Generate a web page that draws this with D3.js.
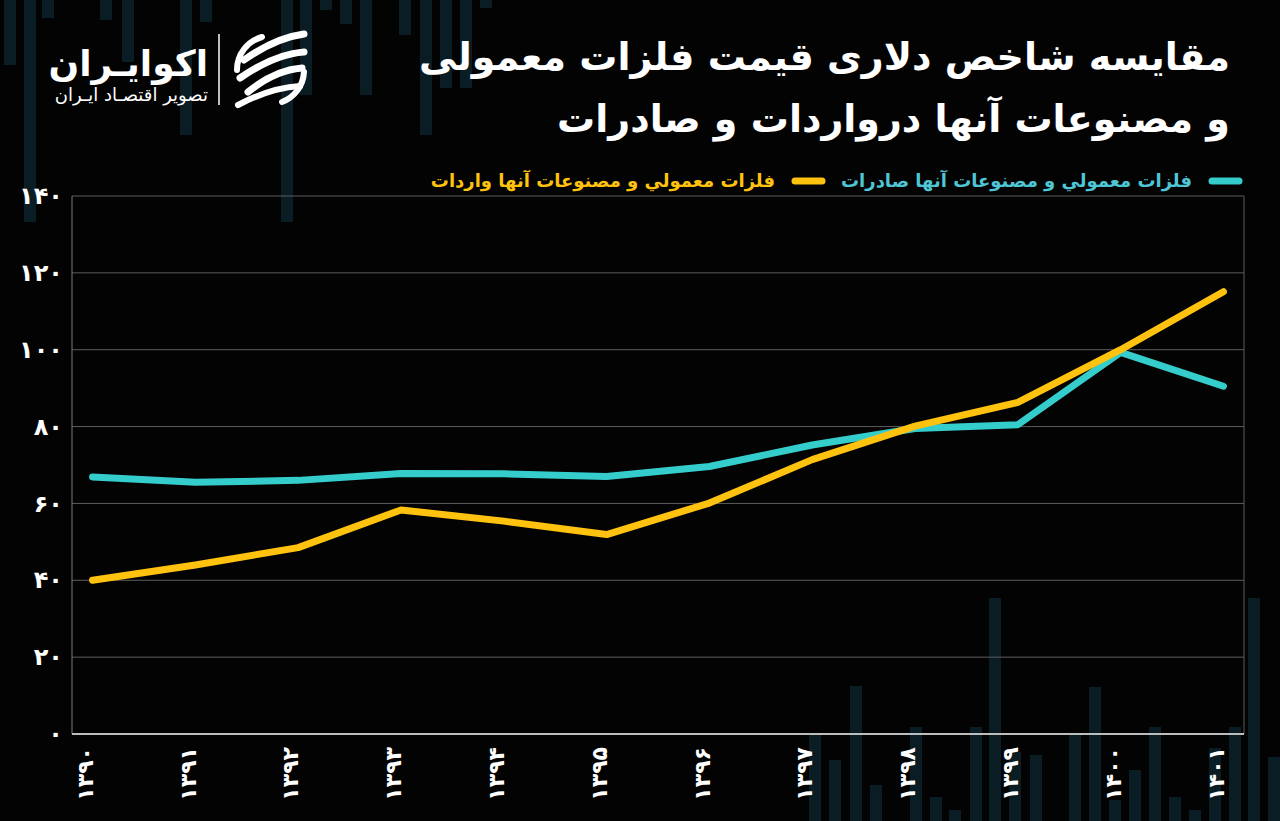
<!DOCTYPE html>
<html><head><meta charset="utf-8">
<script src="https://cdn.jsdelivr.net/npm/d3@7"></script>
<style>
html,body{margin:0;padding:0;background:#030303;}
svg{display:block;}
</style></head>
<body>
<script>
// ---- data ----
const years = ["۱۳۹۰","۱۳۹۱","۱۳۹۲","۱۳۹۳","۱۳۹۴","۱۳۹۵","۱۳۹۶","۱۳۹۷","۱۳۹۸","۱۳۹۹","۱۴۰۰","۱۴۰۱"];
const exportsIdx = [66.9, 65.5, 66.0, 67.8, 67.7, 67.0, 69.6, 75.2, 79.5, 80.5, 99.3, 90.5];
const importsIdx = [40.0, 44.0, 48.5, 58.3, 55.4, 51.9, 60.1, 71.4, 80.1, 86.3, 100.0, 115.1];
const yTicks = [0, 20, 40, 60, 80, 100, 120, 140];
const yTickLabels = ["۰","۲۰","۴۰","۶۰","۸۰","۱۰۰","۱۲۰","۱۴۰"];
const seriesNames = ["فلزات معمولي و مصنوعات آنها صادرات","فلزات معمولي و مصنوعات آنها واردات"];
const titleLines = ["مقایسه شاخص دلاری قیمت فلزات معمولی","و مصنوعات آنها درواردات و صادرات"];

const W = 1280, H = 821;
const svg = d3.select("body").append("svg").attr("width", W).attr("height", H);
svg.append("rect").attr("width", W).attr("height", H).attr("fill", "#030303");

// decorative background candles
const deco = svg.append("g").attr("fill", "#0a1c24");
const topBars = [[10,0,65],[30,0,222],[48,0,18],[106,0,20],[128,0,62],[186,0,135],[206,0,22],[287,0,222],[306,0,95],[326,0,10],[346,0,24],[366,0,95],[405,0,35],[426,0,135],[446,0,88],[466,0,88],[486,0,8]];
const botBars = [[815,735,821],[835,760,821],[856,686,821],[876,785,821],[916,727,821],[936,797,821],[955,810,821],[976,727,821],[995,598,821],[1015,752,821],[1036,755,821],[1075,735,821],[1095,687,821],[1115,800,821],[1135,770,821],[1155,727,821],[1175,797,821],[1195,810,821],[1215,748,821],[1235,727,821],[1254,598,821],[1274,757,821]];
topBars.concat(botBars).forEach(b => deco.append("rect").attr("x", b[0]-6).attr("y", b[1]).attr("width", 12).attr("height", b[2]-b[1]));

// scales
const x = d3.scalePoint().domain(years).range([72, 1244]).padding(0.2);
const y = d3.scaleLinear().domain([0, 140]).range([734, 196]);

// grid
const grid = svg.append("g");
grid.selectAll("line").data(yTicks.filter(d => d > 0)).join("line")
  .attr("x1", 72).attr("x2", 1244).attr("y1", d => y(d)).attr("y2", d => y(d))
  .attr("stroke", "#5c5c5c").attr("stroke-width", 1);
svg.append("line").attr("x1", 1244).attr("x2", 1244).attr("y1", 196).attr("y2", 734).attr("stroke", "#5c5c5c");
svg.append("line").attr("x1", 72).attr("x2", 72).attr("y1", 196).attr("y2", 734).attr("stroke", "#7a7a7a");

// y axis
const yAxis = svg.append("g").attr("transform", "translate(72,0)")
  .call(d3.axisLeft(y).tickValues(yTicks).tickSize(0).tickPadding(9).tickFormat((d, i) => yTickLabels[i]));
yAxis.select(".domain").remove();
yAxis.selectAll("text").attr("fill", "#ffffff").attr("font-family", "DejaVu Sans").attr("font-weight", "bold").attr("font-size", 24);

// x axis
const xAxis = svg.append("g").attr("transform", "translate(0,734)")
  .call(d3.axisBottom(x).tickSize(0).tickPadding(0));
xAxis.select(".domain").attr("stroke", "#bdbdbd").attr("stroke-width", 2).attr("d", "M72,0H1244");
xAxis.selectAll("text")
  .attr("fill", "#ffffff").attr("font-family", "DejaVu Sans").attr("font-weight", "bold").attr("font-size", 22)
  .attr("transform", "rotate(-90)").attr("text-anchor", "end")
  .attr("x", -13).attr("y", -8).attr("dy", "0.35em");

// lines
const line = d3.line().x((d, i) => x(years[i])).y(d => y(d));
svg.append("path").datum(exportsIdx).attr("d", line).attr("fill", "none")
  .attr("stroke", "#35cccc").attr("stroke-width", 7).attr("stroke-linecap", "round").attr("stroke-linejoin", "round");
svg.append("path").datum(importsIdx).attr("d", line).attr("fill", "none")
  .attr("stroke", "#ffc20e").attr("stroke-width", 7).attr("stroke-linecap", "round").attr("stroke-linejoin", "round");

// legend
const leg = svg.append("g");
leg.append("line").attr("x1", 1212).attr("x2", 1239).attr("y1", 181).attr("y2", 181)
  .attr("stroke", "#35cccc").attr("stroke-width", 7).attr("stroke-linecap", "round");
leg.append("text").attr("x", 1192).attr("y", 181).attr("dy", "0.35em").attr("text-anchor", "start").attr("direction", "rtl")
  .attr("fill", "#4fc6d6").attr("font-family", "DejaVu Sans").attr("font-size", 18).attr("font-weight", "bold").text(seriesNames[0]);
leg.append("line").attr("x1", 795).attr("x2", 822).attr("y1", 181).attr("y2", 181)
  .attr("stroke", "#ffc20e").attr("stroke-width", 7).attr("stroke-linecap", "round");
leg.append("text").attr("x", 775).attr("y", 181).attr("dy", "0.35em").attr("text-anchor", "start").attr("direction", "rtl")
  .attr("fill", "#ffc20e").attr("font-family", "DejaVu Sans").attr("font-size", 18).attr("font-weight", "bold").text(seriesNames[1]);

// title
svg.append("g").selectAll("text").data(titleLines).join("text")
  .attr("x", 1230).attr("y", (d, i) => 70 + i * 62).attr("direction", "rtl").attr("text-anchor", "start")
  .attr("fill", "#ffffff").attr("font-family", "DejaVu Sans").attr("font-weight", "bold").attr("font-size", 38)
  .text(d => d);

// logo
const logo = svg.append("g");
logo.append("text").attr("x", 208).attr("y", 76).attr("direction", "rtl").attr("text-anchor", "start")
  .attr("fill", "#ffffff").attr("font-family", "DejaVu Sans").attr("font-weight", "bold").attr("font-size", 36).text("اکوایـران");
logo.append("text").attr("x", 208).attr("y", 101).attr("direction", "rtl").attr("text-anchor", "start")
  .attr("fill", "#ffffff").attr("font-family", "DejaVu Sans").attr("font-size", 18).text("تصویر اقتصـاد ایـران");
logo.append("line").attr("x1", 219).attr("x2", 219).attr("y1", 34).attr("y2", 105).attr("stroke", "#ffffff").attr("stroke-width", 1.5);
const ic = logo.append("g").attr("transform", "translate(270,70)").attr("fill", "none").attr("stroke", "#ffffff").attr("stroke-linecap", "round");
ic.append("path").attr("d", "M-8,-33 A34,34 0 0 0 -33,0").attr("stroke-width", 6);
ic.append("path").attr("d", "M12,32 A34,34 0 0 0 34,2").attr("stroke-width", 6);
ic.append("path").attr("d", "M-26,-10 Q5,-32 34,-36").attr("stroke-width", 7);
ic.append("path").attr("d", "M-30,8 Q5,-16 34,-18").attr("stroke-width", 7);
ic.append("path").attr("d", "M-22,22 Q5,0 32,-2").attr("stroke-width", 7);
ic.append("path").attr("d", "M-32,35 Q0,18 30,16").attr("stroke-width", 6);
</script>
</body></html>
